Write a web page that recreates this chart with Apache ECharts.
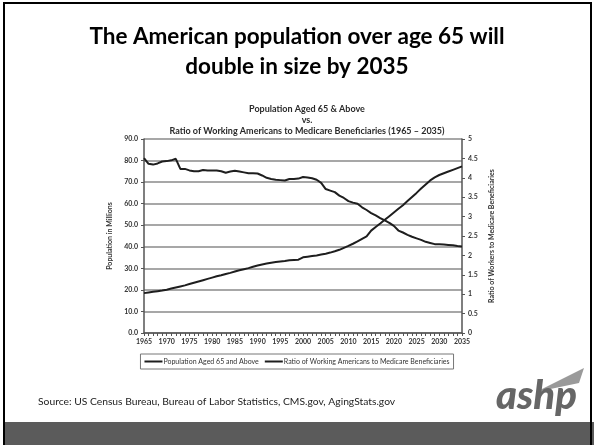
<!DOCTYPE html>
<html>
<head>
<meta charset="utf-8">
<script src="https://cdn.jsdelivr.net/npm/echarts@6/dist/echarts.min.js"></script>
<style>
html,body{margin:0;padding:0;background:#fff;}
#chart{width:594px;height:445px;}
</style>
</head>
<body>
<div id="chart"></div>
<script>
var years = [];
for (var y = 1965; y <= 2035; y++) years.push(String(y));

var population65 = [
  18.5, 18.8, 19.1, 19.4, 19.7, 20.1, 20.6, 21.1, 21.6, 22.1,
  22.7, 23.3, 23.9, 24.5, 25.1, 25.7, 26.3, 26.8, 27.4, 27.9,
  28.5, 29.1, 29.6, 30.1, 30.7, 31.3, 31.8, 32.2, 32.6, 32.9,
  33.2, 33.4, 33.7, 33.9, 34.0, 35.1, 35.4, 35.7, 36.0, 36.4,
  36.8, 37.3, 37.9, 38.6, 39.5, 40.4, 41.4, 42.5, 43.7, 44.8,
  47.5, 49.2, 50.8, 52.5, 54.2, 55.9, 57.6, 59.3, 61.2, 63.1,
  65.0, 67.0, 68.9, 70.8, 72.2, 73.3, 74.1, 74.9, 75.7, 76.5,
  77.3
];

var workerRatio = [
  4.51, 4.36, 4.34, 4.37, 4.42, 4.43, 4.45, 4.49, 4.23, 4.23,
  4.19, 4.17, 4.17, 4.20, 4.19, 4.19, 4.19, 4.17, 4.13, 4.16,
  4.18, 4.16, 4.14, 4.12, 4.12, 4.11, 4.06, 4.00, 3.97, 3.95,
  3.94, 3.93, 3.97, 3.97, 3.98, 4.02, 4.01, 3.99, 3.95, 3.87,
  3.71, 3.67, 3.63, 3.54, 3.48, 3.40, 3.36, 3.33, 3.24, 3.17,
  3.09, 3.03, 2.96, 2.90, 2.84, 2.76, 2.64, 2.59, 2.53, 2.48,
  2.44, 2.40, 2.35, 2.32, 2.29, 2.29, 2.28, 2.27, 2.26, 2.24,
  2.23
];

var seriesNames = ['Population Aged 65 and Above', 'Ratio of Working Americans to Medicare Beneficiaries'];

var FONT = 'Lato, "Open Sans", sans-serif';
var chart = echarts.init(document.getElementById('chart'), null, {renderer: 'canvas'});

chart.setOption({
  backgroundColor: '#ffffff',
  animation: false,
  textStyle: {fontFamily: FONT},
  title: [
    {
      text: 'The American population over age 65 will\ndouble in size by 2035',
      left: 'center', top: 17,
      textStyle: {fontFamily: FONT, fontSize: 22.5, fontWeight: 'bold', color: '#000', lineHeight: 30}
    },
    {
      text: 'Population Aged 65 & Above\nvs.\nRatio of Working Americans to Medicare Beneficiaries (1965 \u2013 2035)',
      left: 302, textAlign: 'center', top: 99,
      textStyle: {fontFamily: FONT, fontSize: 9, fontWeight: 'bold', color: '#2a2a2a', lineHeight: 11}
    }
  ],
  legend: {
    bottom: 76, left: 'center',
    data: seriesNames,
    itemWidth: 18, itemHeight: 2, itemGap: 6,
    icon: 'rect',
    borderColor: '#777', borderWidth: 1,
    padding: [4, 4, 4, 4],
    textStyle: {fontFamily: FONT, fontSize: 7, color: '#333', padding: [0, 0, 0, -4]}
  },
  grid: {left: 144, right: 132, top: 139, bottom: 112},
  xAxis: {
    type: 'category',
    data: years,
    boundaryGap: false,
    axisLine: {lineStyle: {color: '#555', width: 1.5}},
    axisTick: {show: true, interval: 0, length: 3, lineStyle: {color: '#555'}},
    axisLabel: {interval: 4, fontSize: 7, color: '#333', margin: 5, fontWeight: 'bold'},
    splitLine: {show: false}
  },
  yAxis: [
    {
      type: 'value', min: 0, max: 90, interval: 10,
      name: 'Population in Millions', nameLocation: 'middle', nameRotate: 90, nameGap: 28,
      nameTextStyle: {fontFamily: FONT, fontSize: 7, color: '#333', fontWeight: 'bold'},
      axisLine: {show: true, lineStyle: {color: '#555', width: 1.5}},
      axisTick: {show: true, length: 3, lineStyle: {color: '#555'}},
      axisLabel: {fontSize: 7, color: '#333', fontWeight: 'bold', margin: 6,
        formatter: function (v) { return v.toFixed(1); }},
      splitLine: {show: true, lineStyle: {color: '#8a8a8a', width: 1.5}}
    },
    {
      type: 'value', min: 0, max: 5, interval: 0.5, position: 'right',
      name: 'Ratio of Workers to Medicare Beneficiaries', nameLocation: 'middle', nameRotate: 90, nameGap: 24,
      nameTextStyle: {fontFamily: FONT, fontSize: 7, color: '#333', fontWeight: 'bold'},
      axisLine: {show: true, lineStyle: {color: '#555', width: 1.5}},
      axisTick: {show: true, length: 3, lineStyle: {color: '#555'}},
      axisLabel: {fontSize: 7, color: '#333', fontWeight: 'bold', margin: 6},
      splitLine: {show: false}
    }
  ],
  series: [
    {
      name: seriesNames[0], type: 'line', yAxisIndex: 0,
      data: population65, symbol: 'none', smooth: false,
      lineStyle: {color: '#1e1e1e', width: 2},
      itemStyle: {color: '#1e1e1e'}
    },
    {
      name: seriesNames[1], type: 'line', yAxisIndex: 1,
      data: workerRatio, symbol: 'none', smooth: false,
      lineStyle: {color: '#1e1e1e', width: 2},
      itemStyle: {color: '#1e1e1e'}
    }
  ],
  graphic: [
    {type: 'rect', shape: {x: 5, y: 422, width: 589, height: 23}, style: {fill: '#5b5b5b'}, z: 1},
    {type: 'rect', shape: {x: 4, y: 3, width: 587, height: 445}, style: {fill: 'none', stroke: '#000', lineWidth: 2}, z: 2},
    {type: 'text', left: 38, top: 397,
      style: {text: 'Source: US Census Bureau, Bureau of Labor Statistics, CMS.gov, AgingStats.gov',
        font: '10.3px ' + FONT, fill: '#222'}},
    {type: 'polygon', shape: {points: [[536, 392], [584, 368], [579, 383]]}, style: {fill: '#9a9a9a'}},
    {type: 'text', left: 496, top: 376,
      style: {text: 'ashp', font: 'italic 900 40px ' + FONT, fill: '#666666'}}
  ]
});
</script>
</body>
</html>
